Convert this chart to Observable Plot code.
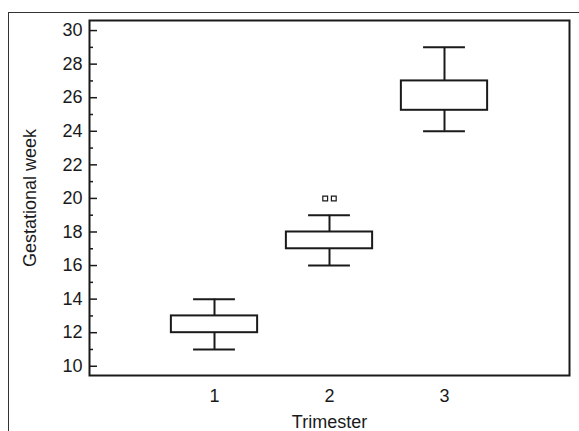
<!DOCTYPE html>
<html>
<head>
<meta charset="utf-8">
<script src="https://cdn.jsdelivr.net/npm/d3@7"></script>
<script src="https://cdn.jsdelivr.net/npm/@observablehq/plot@0.6"></script>
<style>
  html, body { margin: 0; padding: 0; background: #fff; overflow: hidden; }
  #wrap { position: relative; width: 579px; height: 431px; }
  #border { position: absolute; left: 8px; top: 12px; width: 700px; height: 600px;
            border-left: 1px solid #333; border-top: 1px solid #333; }
  #chart { position: absolute; left: 0; top: 0; }
</style>
</head>
<body>
<div id="wrap"><div id="border"></div><div id="chart"></div></div>
<script>
const trimesters = [1, 2, 3];
const whiskerLow = [11, 16, 24];
const quartile1 = [12, 17, 25.25];
const quartile3 = [13, 18, 27];
const whiskerHigh = [14, 19, 29];
const outlierTrimester = [2, 2];
const outlierValue = [20, 20];
const yMajorTicks = [10, 12, 14, 16, 18, 20, 22, 24, 26, 28, 30];
const yMinorTicks = [11, 13, 15, 17, 19, 21, 23, 25, 27, 29];
const xTicks = [1, 2, 3];

const boxes = trimesters.map((t, i) => ({
  t, lo: whiskerLow[i], q1: quartile1[i], q3: quartile3[i], hi: whiskerHigh[i]
}));
const outliers = outlierTrimester.map((t, i) => ({t, v: outlierValue[i], i}));

const halfBox = 0.375;
const halfCap = 0.182;
const ink = "#1a1a1a";
const W = 579, H = 431;
const mL = 89, mR = 10, mT = 20, mB = 56;
const frameW = W - mL - mR;

const chart = Plot.plot({
  width: W,
  height: H,
  marginLeft: mL,
  marginRight: mR,
  marginTop: mT,
  marginBottom: mB,
  style: {fontFamily: "'Liberation Sans', Arial, sans-serif", fontSize: "18px", color: ink, background: "transparent"},
  x: {type: "linear", domain: [-0.087, 4.087]},
  y: {domain: [9.45, 30.6]},
  marks: [
    Plot.axisY({ticks: yMajorTicks, tickSize: 0, tickPadding: 7, label: null, fontSize: 18, tickFormat: d => String(d)}),
    Plot.axisX({ticks: xTicks, tickSize: 0, tickPadding: 14, label: null, fontSize: 18, tickFormat: d => String(d)}),
    Plot.tickY(yMajorTicks, {y: d => d, insetRight: frameW - 8, stroke: ink, strokeWidth: 1.5}),
    Plot.tickY(yMinorTicks, {y: d => d, insetRight: frameW - 4, stroke: ink, strokeWidth: 1.5}),
    Plot.ruleX(boxes, {x: "t", y1: "lo", y2: "q1", stroke: ink, strokeWidth: 2}),
    Plot.ruleX(boxes, {x: "t", y1: "q3", y2: "hi", stroke: ink, strokeWidth: 2}),
    Plot.ruleY(boxes, {y: "lo", x1: d => d.t - halfCap, x2: d => d.t + halfCap, stroke: ink, strokeWidth: 2}),
    Plot.ruleY(boxes, {y: "hi", x1: d => d.t - halfCap, x2: d => d.t + halfCap, stroke: ink, strokeWidth: 2}),
    Plot.rect(boxes, {x1: d => d.t - halfBox, x2: d => d.t + halfBox, y1: "q1", y2: "q3", fill: "white", stroke: ink, strokeWidth: 2}),
    Plot.dot(outliers.filter(d => d.i === 0), {x: "t", y: "v", symbol: "square", r: 2.7, stroke: ink, strokeWidth: 1.2, fill: "white", dx: -4.3}),
    Plot.dot(outliers.filter(d => d.i === 1), {x: "t", y: "v", symbol: "square", r: 2.7, stroke: ink, strokeWidth: 1.2, fill: "white", dx: 4.3}),
    Plot.frame({stroke: ink, strokeWidth: 2}),
    Plot.text(["Trimester"], {frameAnchor: "bottom", dy: 52, lineAnchor: "bottom", textAnchor: "middle", fontSize: 18, fill: ink}),
    Plot.text(["Gestational week"], {frameAnchor: "left", dx: -59, rotate: -90, lineAnchor: "middle", textAnchor: "middle", fontSize: 18, fill: ink})
  ]
});
document.getElementById("chart").appendChild(chart);
</script>
</body>
</html>
